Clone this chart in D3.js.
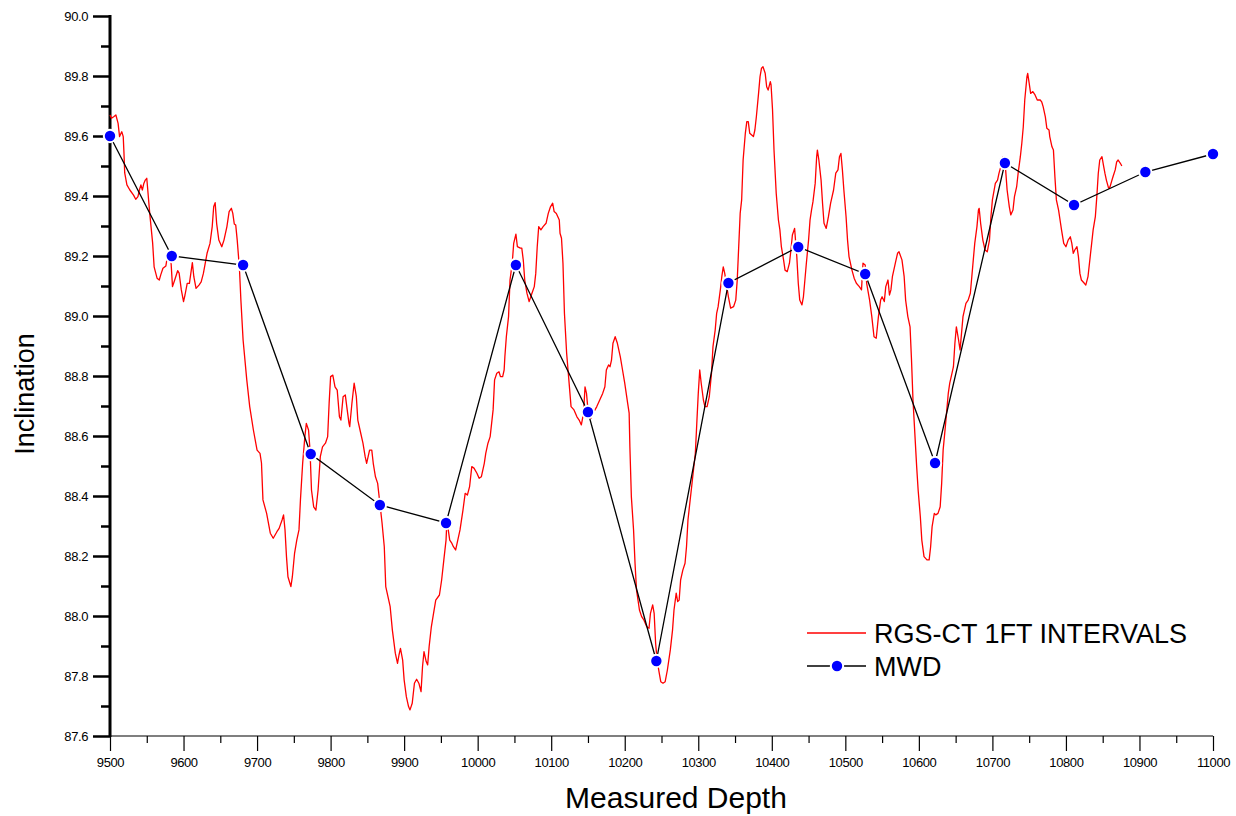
<!DOCTYPE html>
<html>
 <head>
  <meta charset="utf-8" />
  <title>Inclination vs Measured Depth</title>
  <style>
   body, html {
    margin: 0;
    padding: 0;
    background-color: white;
   }
   svg text {
    font-family: "Liberation Sans", Arial, sans-serif;
    fill: #000;
   }
  </style>
  <script src="https://cdnjs.cloudflare.com/ajax/libs/d3/7.9.0/d3.min.js"></script>
 </head>
 <body>
  <svg width="1236" height="816"></svg>
  <script>
   // RGS-CT survey (depth ft / inclination deg)
   const rgsDepth = [
    9500, 9502, 9505, 9508, 9511, 9513, 9515, 9516, 9518, 9519, 9520, 9523, 9527, 9532, 9535, 9538, 9540, 9542, 9544, 9546,
    9548, 9550, 9551, 9554, 9558, 9560, 9564, 9567, 9569, 9572, 9576, 9578, 9582, 9585, 9588, 9592, 9594, 9597, 9600, 9602,
    9605, 9608, 9612, 9614, 9617, 9621, 9624, 9627, 9632, 9636, 9639, 9641, 9643, 9645, 9648, 9652, 9655, 9659, 9662, 9665,
    9667, 9669, 9671, 9673, 9676, 9678, 9681, 9686, 9690, 9695, 9700, 9704, 9706, 9708, 9713, 9718, 9722, 9727, 9730, 9734,
    9736, 9738, 9740, 9742, 9746, 9748, 9751, 9754, 9757, 9759, 9762, 9765, 9767, 9770, 9772, 9774, 9777, 9780, 9783, 9786,
    9789, 9793, 9796, 9798, 9800, 9803, 9806, 9809, 9812, 9814, 9817, 9820, 9822, 9825, 9826, 9829, 9832, 9835, 9837, 9840,
    9844, 9847, 9849, 9853, 9856, 9858, 9861, 9864, 9867, 9870, 9873, 9875, 9881, 9884, 9888, 9891, 9893, 9895, 9898, 9900,
    9903, 9906, 9908, 9911, 9914, 9917, 9920, 9923, 9925, 9927, 9930, 9932, 9934, 9937, 9940, 9943, 9948, 9951, 9954, 9957,
    9958, 9960, 9962, 9965, 9967, 9970, 9972, 9976, 9980, 9983, 9986, 9989, 9992, 9995, 9999, 10002, 10005, 10009, 10011, 10014,
    10017, 10021, 10023, 10026, 10029, 10031, 10034, 10036, 10037, 10039, 10042, 10044, 10047, 10049, 10052, 10054, 10058, 10060, 10062, 10064,
    10067, 10070, 10073, 10077, 10079, 10081, 10083, 10086, 10089, 10093, 10096, 10099, 10102, 10104, 10107, 10111, 10112, 10114, 10116, 10118,
    10121, 10124, 10127, 10131, 10135, 10138, 10141, 10144, 10146, 10148, 10150, 10154, 10157, 10162, 10166, 10170, 10173, 10175, 10178, 10180,
    10182, 10184, 10187, 10190, 10194, 10197, 10200, 10204, 10206, 10207, 10209, 10212, 10214, 10216, 10220, 10223, 10226, 10230, 10233, 10235,
    10238, 10240, 10242, 10244, 10247, 10249, 10252, 10255, 10258, 10262, 10265, 10267, 10270, 10272, 10274, 10276, 10279, 10282, 10284, 10286,
    10289, 10291, 10293, 10296, 10298, 10300, 10302, 10304, 10307, 10309, 10312, 10315, 10318, 10320, 10323, 10325, 10327, 10330, 10332, 10334,
    10336, 10341, 10344, 10348, 10351, 10353, 10355, 10357, 10359, 10361, 10364, 10366, 10368, 10370, 10375, 10377, 10379, 10382, 10384, 10386,
    10388, 10391, 10393, 10395, 10398, 10399, 10401, 10403, 10406, 10409, 10411, 10413, 10416, 10418, 10421, 10424, 10426, 10428, 10431, 10434,
    10436, 10438, 10441, 10443, 10445, 10447, 10450, 10452, 10454, 10456, 10459, 10461, 10462, 10464, 10467, 10469, 10471, 10474, 10477, 10480,
    10484, 10487, 10490, 10492, 10494, 10496, 10498, 10501, 10503, 10505, 10509, 10512, 10515, 10519, 10522, 10524, 10527, 10529, 10533, 10536,
    10539, 10542, 10545, 10548, 10550, 10553, 10555, 10558, 10560, 10562, 10564, 10568, 10571, 10573, 10577, 10580, 10582, 10585, 10588, 10590,
    10592, 10595, 10597, 10599, 10602, 10604, 10607, 10611, 10614, 10616, 10618, 10621, 10623, 10626, 10629, 10631, 10633, 10636, 10638, 10640,
    10642, 10645, 10647, 10649, 10651, 10654, 10656, 10658, 10660, 10664, 10667, 10670, 10672, 10674, 10676, 10679, 10681, 10682, 10684, 10687,
    10690, 10693, 10696, 10698, 10700, 10704, 10707, 10709, 10712, 10714, 10716, 10718, 10720, 10723, 10725, 10728, 10730, 10733, 10735, 10738,
    10740, 10742, 10744, 10747, 10748, 10750, 10752, 10755, 10758, 10761, 10765, 10767, 10769, 10772, 10774, 10777, 10778, 10781, 10783, 10785,
    10787, 10790, 10792, 10794, 10797, 10800, 10803, 10806, 10808, 10810, 10812, 10815, 10817, 10819, 10821, 10825, 10827, 10830, 10833, 10835,
    10837, 10840, 10842, 10844, 10846, 10849, 10851, 10853, 10855, 10858, 10860, 10862, 10864, 10867, 10869, 10871, 10874, 10876
   ];
   const rgsIncl = [
    89.670, 89.659, 89.664, 89.670, 89.642, 89.598, 89.609, 89.614, 89.598, 89.543, 89.477, 89.437, 89.420, 89.403, 89.389, 89.398, 89.420, 89.437, 89.420, 89.442,
    89.453, 89.459, 89.431, 89.343, 89.243, 89.164, 89.126, 89.120, 89.137, 89.159, 89.167, 89.198, 89.220, 89.098, 89.120, 89.151, 89.143, 89.087, 89.048, 89.070,
    89.109, 89.109, 89.178, 89.131, 89.092, 89.103, 89.114, 89.142, 89.209, 89.242, 89.298, 89.364, 89.378, 89.309, 89.253, 89.231, 89.253, 89.298, 89.348, 89.359,
    89.342, 89.307, 89.303, 89.253, 89.160, 89.053, 88.920, 88.787, 88.698, 88.620, 88.553, 88.542, 88.510, 88.387, 88.342, 88.276, 88.259, 88.281, 88.292, 88.320,
    88.337, 88.287, 88.198, 88.131, 88.098, 88.131, 88.209, 88.253, 88.287, 88.387, 88.509, 88.598, 88.642, 88.620, 88.553, 88.420, 88.364, 88.353, 88.420, 88.531,
    88.564, 88.576, 88.598, 88.709, 88.798, 88.803, 88.764, 88.753, 88.664, 88.653, 88.731, 88.737, 88.698, 88.642, 88.631, 88.709, 88.776, 88.731, 88.653, 88.620,
    88.576, 88.531, 88.509, 88.553, 88.553, 88.509, 88.464, 88.442, 88.376, 88.309, 88.231, 88.098, 88.031, 87.953, 87.876, 87.842, 87.870, 87.892, 87.853, 87.787,
    87.731, 87.698, 87.687, 87.709, 87.776, 87.789, 87.776, 87.748, 87.831, 87.881, 87.848, 87.837, 87.898, 87.964, 88.009, 88.053, 88.070, 88.120, 88.187, 88.253,
    88.309, 88.287, 88.253, 88.242, 88.231, 88.220, 88.242, 88.287, 88.353, 88.409, 88.403, 88.431, 88.498, 88.493, 88.476, 88.459, 88.464, 88.509, 88.542, 88.576,
    88.598, 88.687, 88.787, 88.809, 88.814, 88.798, 88.798, 88.820, 88.864, 88.931, 88.998, 89.120, 89.176, 89.242, 89.273, 89.231, 89.226, 89.226, 89.187, 89.120,
    89.076, 89.048, 89.070, 89.098, 89.142, 89.231, 89.298, 89.287, 89.298, 89.309, 89.342, 89.364, 89.376, 89.348, 89.342, 89.320, 89.276, 89.259, 89.176, 89.009,
    88.876, 88.787, 88.698, 88.687, 88.664, 88.653, 88.637, 88.676, 88.764, 88.742, 88.687, 88.659, 88.676, 88.698, 88.720, 88.742, 88.764, 88.820, 88.837, 88.831,
    88.853, 88.909, 88.931, 88.909, 88.864, 88.820, 88.776, 88.709, 88.676, 88.564, 88.398, 88.287, 88.176, 88.087, 88.020, 87.998, 87.987, 87.964, 87.959, 88.009,
    88.037, 88.009, 87.909, 87.853, 87.809, 87.781, 87.776, 87.781, 87.820, 87.887, 87.953, 88.020, 88.076, 88.048, 88.053, 88.120, 88.153, 88.176, 88.231, 88.320,
    88.387, 88.431, 88.476, 88.542, 88.642, 88.742, 88.820, 88.776, 88.720, 88.698, 88.698, 88.731, 88.809, 88.898, 88.953, 89.009, 89.031, 89.087, 89.131, 89.164,
    89.142, 89.064, 89.026, 89.031, 89.053, 89.120, 89.231, 89.342, 89.387, 89.520, 89.609, 89.648, 89.648, 89.609, 89.598, 89.620, 89.664, 89.742, 89.798, 89.826,
    89.831, 89.809, 89.764, 89.753, 89.781, 89.770, 89.687, 89.553, 89.409, 89.320, 89.287, 89.231, 89.187, 89.153, 89.148, 89.176, 89.220, 89.270, 89.292, 89.198,
    89.109, 89.053, 89.037, 89.064, 89.120, 89.176, 89.253, 89.320, 89.353, 89.381, 89.442, 89.531, 89.553, 89.520, 89.453, 89.376, 89.309, 89.292, 89.331, 89.376,
    89.420, 89.476, 89.487, 89.531, 89.542, 89.487, 89.420, 89.331, 89.253, 89.198, 89.153, 89.126, 89.109, 89.098, 89.087, 89.176, 89.170, 89.109, 89.053, 88.998,
    88.931, 88.926, 88.998, 89.053, 89.064, 89.048, 89.098, 89.120, 89.070, 89.087, 89.131, 89.176, 89.209, 89.214, 89.187, 89.131, 89.053, 88.998, 88.964, 88.853,
    88.720, 88.587, 88.498, 88.420, 88.331, 88.253, 88.198, 88.187, 88.187, 88.231, 88.298, 88.342, 88.337, 88.342, 88.364, 88.442, 88.553, 88.631, 88.687, 88.742,
    88.776, 88.809, 88.831, 88.909, 88.964, 88.920, 88.887, 88.942, 88.998, 89.042, 89.053, 89.076, 89.131, 89.187, 89.242, 89.298, 89.353, 89.359, 89.309, 89.253,
    89.220, 89.214, 89.253, 89.331, 89.387, 89.442, 89.453, 89.476, 89.503, 89.531, 89.520, 89.487, 89.420, 89.364, 89.337, 89.353, 89.398, 89.431, 89.476, 89.531,
    89.576, 89.631, 89.720, 89.798, 89.809, 89.776, 89.742, 89.748, 89.737, 89.720, 89.720, 89.714, 89.698, 89.664, 89.626, 89.620, 89.598, 89.564, 89.553, 89.464,
    89.387, 89.353, 89.320, 89.287, 89.242, 89.231, 89.253, 89.264, 89.242, 89.209, 89.220, 89.231, 89.198, 89.142, 89.120, 89.109, 89.103, 89.131, 89.198, 89.242,
    89.287, 89.331, 89.398, 89.476, 89.520, 89.531, 89.503, 89.476, 89.453, 89.426, 89.431, 89.448, 89.464, 89.487, 89.514, 89.520, 89.509, 89.500
   ];

   // MWD survey stations
   const mwdDepth = [9500, 9584, 9681, 9773, 9867, 9957, 10052, 10150, 10243, 10341, 10436, 10527, 10622, 10717, 10811, 10908, 11000];
   const mwdIncl = [89.60, 89.20, 89.17, 88.54, 88.37, 88.31, 89.17, 88.68, 87.85, 89.11, 89.23, 89.14, 88.51, 89.51, 89.37, 89.48, 89.54];

   const seriesNames = ["RGS-CT 1FT INTERVALS", "MWD"];
   const xTicks = d3.range(9500, 11001, 100);
   const xMinor = d3.range(9550, 11000, 100);
   const yTicks = [87.6, 87.8, 88.0, 88.2, 88.4, 88.6, 88.8, 89.0, 89.2, 89.4, 89.6, 89.8, 90.0];
   const yMinor = [87.7, 87.9, 88.1, 88.3, 88.5, 88.7, 88.9, 89.1, 89.3, 89.5, 89.7, 89.9];

   const svg = d3.select("svg");
   const plot = { left: 110, right: 1213, top: 16, bottom: 736 };

   const x = d3.scaleLinear().domain([9500, 11000]).range([plot.left, plot.right]);
   const y = d3.scaleLinear().domain([87.6, 90.0]).range([plot.bottom, plot.top]);

   // bottom axis: thin line, major + minor ticks
   const xAxis = svg.append("g").attr("transform", `translate(0,${plot.bottom})`);
   xAxis.call(d3.axisBottom(x).tickValues(xTicks).tickSize(15).tickSizeOuter(0).tickFormat(d3.format("d")));
   xAxis.append("g").call(d3.axisBottom(x).tickValues(xMinor).tickSize(7).tickFormat(""));
   xAxis.selectAll(".domain").remove();
   xAxis.append("line").attr("x1", plot.left).attr("x2", plot.right).attr("stroke", "#000").attr("stroke-width", 1.2);
   xAxis.selectAll(".tick line").attr("stroke", "#000").attr("stroke-width", 1.2);
   xAxis.selectAll(".tick text")
    .attr("y", 22)
    .attr("dy", "0.71em")
    .style("font-size", "13px")
    .style("letter-spacing", "-0.4px");

   // left axis: heavy line
   const yAxis = svg.append("g").attr("transform", `translate(${plot.left},0)`);
   yAxis.call(d3.axisLeft(y).tickValues(yTicks).tickSize(17).tickSizeOuter(0).tickFormat(d3.format(".1f")));
   yAxis.append("g").call(d3.axisLeft(y).tickValues(yMinor).tickSize(9).tickFormat(""));
   yAxis.selectAll(".domain").remove();
   yAxis.append("line").attr("y1", plot.top - 1).attr("y2", plot.bottom + 1).attr("stroke", "#000").attr("stroke-width", 3);
   yAxis.selectAll(".tick line").attr("stroke", "#000").attr("stroke-width", 2.5);
   yAxis.selectAll(".tick text")
    .attr("x", -22)
    .style("font-size", "13px")
    .style("letter-spacing", "-0.4px");

   const rgs = rgsDepth.map((d, i) => ({ depth: d, incl: rgsIncl[i] }));
   const mwd = mwdDepth.map((d, i) => ({ depth: d, incl: mwdIncl[i] }));

   const line = d3.line().x(d => x(d.depth)).y(d => y(d.incl));

   // RGS-CT trace
   svg.append("path")
    .datum(rgs)
    .attr("fill", "none")
    .attr("stroke", "#ff0000")
    .attr("stroke-width", 1.3)
    .attr("stroke-linejoin", "round")
    .attr("d", line);

   // MWD stations
   svg.append("path")
    .datum(mwd)
    .attr("fill", "none")
    .attr("stroke", "#000")
    .attr("stroke-width", 1.3)
    .attr("d", line);

   svg.append("g").selectAll("circle")
    .data(mwd)
    .enter().append("circle")
    .attr("cx", d => x(d.depth))
    .attr("cy", d => y(d.incl))
    .attr("r", 6.2)
    .attr("fill", "#0000ff")
    .attr("stroke", "#fff")
    .attr("stroke-width", 2);

   // axis titles
   svg.append("text")
    .attr("x", 676)
    .attr("y", 808)
    .attr("text-anchor", "middle")
    .style("font-size", "30px")
    .text("Measured Depth");

   svg.append("text")
    .attr("transform", "translate(34,394) rotate(-90)")
    .attr("text-anchor", "middle")
    .style("font-size", "27px")
    .text("Inclination");

   // legend
   const legend = svg.append("g").attr("transform", "translate(807,633)");
   legend.append("line").attr("x1", 0).attr("x2", 59).attr("stroke", "#ff0000").attr("stroke-width", 1.3);
   legend.append("line").attr("x1", 0).attr("x2", 59).attr("y1", 33).attr("y2", 33).attr("stroke", "#000").attr("stroke-width", 1.3);
   legend.append("circle").attr("cx", 30).attr("cy", 33).attr("r", 6.2)
    .attr("fill", "#0000ff").attr("stroke", "#fff").attr("stroke-width", 2);
   legend.selectAll("text")
    .data(seriesNames)
    .enter().append("text")
    .attr("x", 67)
    .attr("y", (d, i) => i * 33)
    .attr("dy", "0.36em")
    .style("font-size", "27px")
    .text(d => d);
  </script>
 </body>
</html>
